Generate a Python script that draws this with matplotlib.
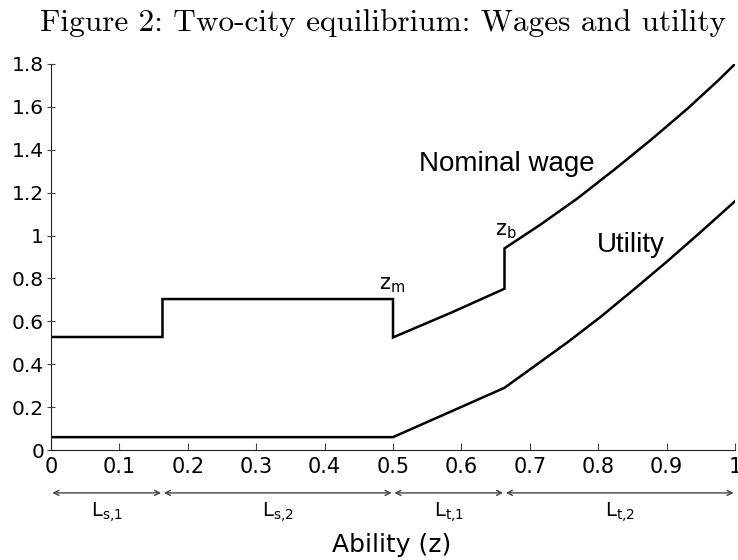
import matplotlib
matplotlib.use("Agg")
import matplotlib.pyplot as plt

# Data
wage_z = [0.0, 0.163, 0.163, 0.500, 0.500, 0.584, 0.663, 0.663, 0.716, 0.770,
          0.823, 0.877, 0.931, 0.975, 1.0]
wage_v = [0.527, 0.527, 0.704, 0.704, 0.525, 0.639, 0.752, 0.940, 1.052, 1.174,
          1.306, 1.446, 1.593, 1.722, 1.800]

util_z = [0.0, 0.500, 0.663, 0.706, 0.755, 0.804, 0.853, 0.901, 0.950, 1.0]
util_v = [0.06, 0.06, 0.290, 0.389, 0.502, 0.622, 0.751, 0.880, 1.017, 1.160]

x_ticks = [0, 0.1, 0.2, 0.3, 0.4, 0.5, 0.6, 0.7, 0.8, 0.9, 1]
x_tick_labels = ["0", "0.1", "0.2", "0.3", "0.4", "0.5", "0.6", "0.7", "0.8", "0.9", "1"]
y_ticks = [0, 0.2, 0.4, 0.6, 0.8, 1, 1.2, 1.4, 1.6, 1.8]
y_tick_labels = ["0", "0.2", "0.4", "0.6", "0.8", "1", "1.2", "1.4", "1.6", "1.8"]

segments = [0.0, 0.163, 0.500, 0.663, 1.0]
segment_labels = [r"L$_{\mathrm{s{,}1}}$", r"L$_{\mathrm{s{,}2}}$",
                  r"L$_{\mathrm{t{,}1}}$", r"L$_{\mathrm{t{,}2}}$"]

fig = plt.figure(figsize=(7.38, 5.6), dpi=100)
ax = fig.add_axes([51/738, 1-450/560, 684/738, 386/560])

ax.plot(wage_z, wage_v, color="black", lw=1.8, solid_joinstyle="miter")
ax.plot(util_z, util_v, color="black", lw=1.8, solid_joinstyle="miter")

ax.set_xlim(0, 1)
ax.set_ylim(0, 1.8)
ax.set_xticks(x_ticks)
ax.set_xticklabels(x_tick_labels)
ax.set_yticks(y_ticks)
ax.set_yticklabels(y_tick_labels)
for s in ["top", "right"]:
    ax.spines[s].set_visible(False)
ax.spines["left"].set_color("#222222")
ax.spines["bottom"].set_color("#222222")
ax.tick_params(axis="x", direction="in", length=5, labelsize=15, pad=5, color="#444444")
ax.tick_params(axis="y", direction="inout", length=6, labelsize=14.5, pad=2, color="#444444")

ax.text(0.499, 0.77, r"z$_{\mathrm{m}}$", ha="center", va="center", fontsize=15)
ax.text(0.665, 1.02, r"z$_{\mathrm{b}}$", ha="center", va="center", fontsize=15)
ax.text(0.666, 1.335, "Nominal wage", ha="center", va="center", fontsize=20,
        family="Liberation Sans")
ax.text(0.848, 0.955, "Utility", ha="center", va="center", fontsize=20,
        family="Liberation Sans")

# Arrows below the axis
arrow_y = -0.2
for a, b, lab in zip(segments[:-1], segments[1:], segment_labels):
    ax.annotate("", xy=(a + 0.002, arrow_y), xytext=(b - 0.002, arrow_y),
                arrowprops=dict(arrowstyle="<->", color="#444444", lw=1.0,
                                shrinkA=0, shrinkB=0, mutation_scale=9),
                annotation_clip=False)
    ax.text((a + b) / 2, -0.29, lab, ha="center", va="center", fontsize=14,
            clip_on=False)

fig.text(392/738, 1 - 545/560, "Ability (z)", ha="center", va="center", fontsize=18)
fig.text(383/738, 1 - 23/560, "Figure 2: Two-city equilibrium: Wages and utility",
         ha="center", va="center", fontsize=22.5, family="cmr10")

fig.savefig("out.png", dpi=100)
